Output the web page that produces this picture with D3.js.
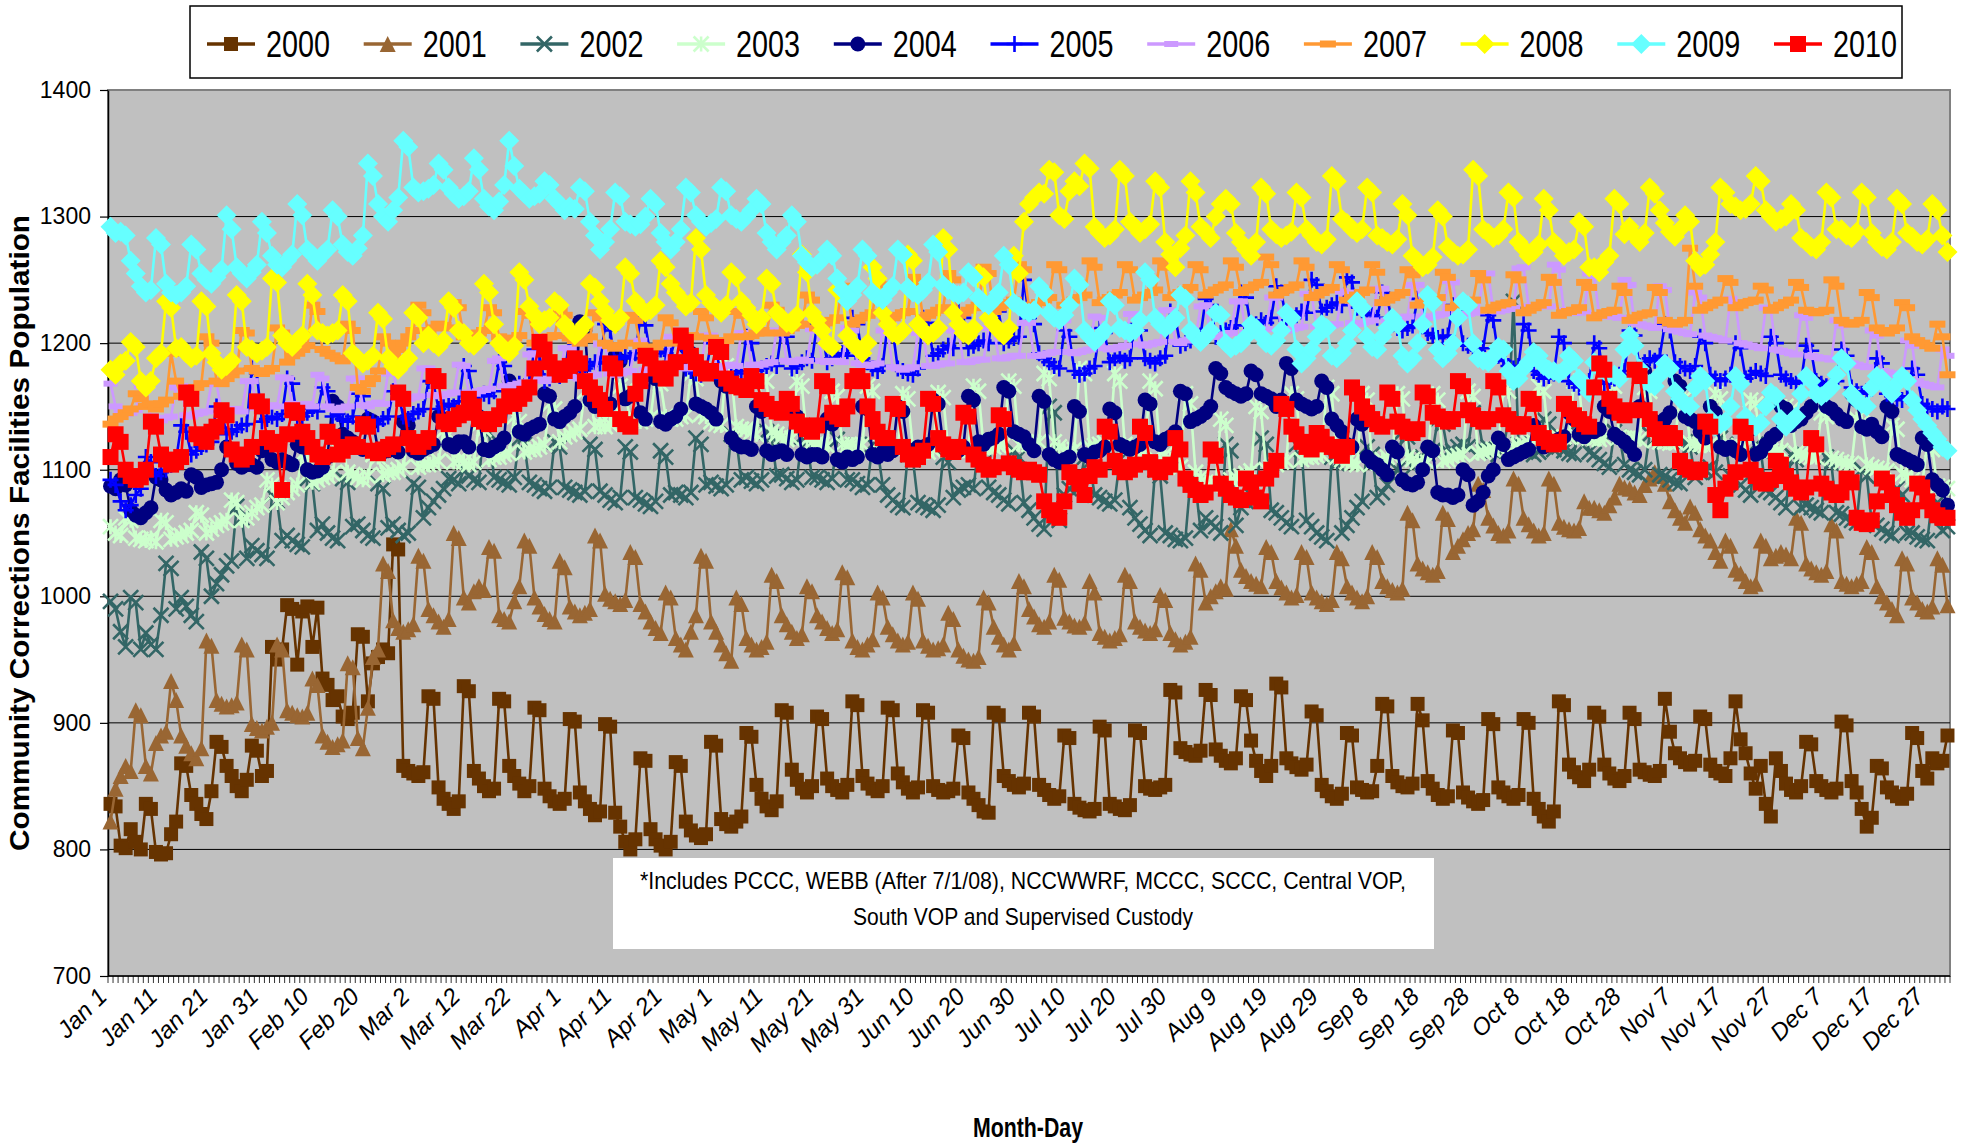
<!DOCTYPE html>
<html>
<head>
<meta charset="utf-8">
<title>Community Corrections Facilities Population</title>
<script src="https://cdn.jsdelivr.net/npm/d3@7"></script>
<style>
  body { margin: 0; background: #fff; }
  svg { display: block; font-family: "Liberation Sans", Arial, sans-serif; }
</style>
</head>
<body>
<div id="chart"></div>
<script>
// daily population, Jan 1 .. Dec 31 (one row = 7 days)
var y2000 = [
  836,834,803,801,816,806,800, 836,832,798,796,797,812,822, 868,866,843,836,828,824,846, 885,881,866,858,850,846,855,
  882,878,858,862,960,950,958, 993,990,946,988,992,960,991, 935,930,918,921,905,903,908, 970,968,917,947,952,958,955,
  1041,1037,866,862,860,858,861, 921,919,849,840,836,832,838, 929,925,862,856,850,846,848, 919,917,866,858,852,846,850,
  912,910,848,842,838,836,840, 903,901,845,838,832,827,830, 899,897,829,818,806,800,808, 872,870,816,808,803,800,806,
  869,866,822,815,811,809,812, 885,882,824,820,818,822,826, 892,889,851,840,834,831,838, 910,908,863,855,848,845,850,
  905,903,856,850,847,845,851, 917,914,858,852,848,846,850, 912,910,860,853,848,845,849, 910,908,850,847,845,846,848,
  890,888,845,840,835,830,829, 908,906,858,854,851,849,852, 908,905,851,847,843,840,842, 890,888,836,833,831,830,832,
  897,894,836,834,832,831,835, 894,892,850,848,847,849,851, 926,924,880,877,875,874,878, 926,922,879,874,870,868,872,
  921,918,886,870,862,858,866, 931,928,872,868,865,863,867, 909,906,851,846,842,840,844, 892,890,849,847,845,846,866,
  915,913,858,853,850,849,852, 915,902,854,848,843,840,842, 894,892,845,841,838,836,839, 903,899,849,845,842,840,843,
  903,900,840,832,826,822,830, 917,914,867,861,857,854,863, 908,905,867,860,856,854,858, 908,903,863,861,859,858,862,
  919,893,876,872,869,867,870, 905,903,867,862,860,858,872, 917,887,876,860,848,866,836, 826,872,862,852,847,845,850,
  885,883,854,850,847,845,848, 901,898,854,845,832,818,825, 866,864,849,845,842,840,844, 892,888,862,856,872,868,870,
  890
];
var y2001 = [
  822,848,858,866,862,910,906, 866,860,884,890,893,933,918, 890,882,876,872,880,965,961, 918,915,913,914,916,962,958,
  899,896,894,897,900,962,958, 910,908,906,905,908,935,930, 890,885,881,883,886,947,944, 888,880,912,952,958,1026,1020,
  981,975,972,974,978,1032,1028, 990,985,980,976,982,1050,1046, 999,995,1004,1008,1005,1039,1036, 985,982,980,996,1008,1044,1040,
  999,992,986,982,980,1028,1023, 992,988,985,987,990,1048,1044, 1002,998,996,994,997,1035,1031, 994,988,980,975,971,1003,999,
  967,962,958,972,985,1032,1028, 980,972,962,955,949,999,994, 967,962,958,960,964,1017,1012, 985,978,972,967,970,1008,1004,
  985,980,975,971,974,1019,1015, 965,960,958,962,966,1003,999, 976,970,965,962,964,1003,998, 965,961,958,959,962,987,982,
  958,953,950,949,952,999,995, 976,968,962,958,963,1012,1008, 990,984,978,976,980,1017,1013, 983,980,977,976,979,1012,1003,
  971,968,965,967,970,1017,1012, 980,976,973,971,974,1001,997, 971,966,962,964,968,1026,1021, 995,1000,1004,1008,1006,1053,1040,
  1021,1016,1012,1010,1008,1039,1035, 1012,1007,1003,999,1001,1035,1031, 1003,999,996,994,997,1035,1030, 1008,1003,999,996,1000,1035,1031,
  1012,1008,1005,1003,1006,1066,1060, 1026,1022,1019,1017,1020,1066,1061, 1035,1040,1045,1050,1053,1089,1084, 1062,1056,1050,1048,1052,1093,1089,
  1062,1057,1052,1048,1050,1093,1089, 1058,1055,1053,1052,1054,1075,1070, 1070,1068,1066,1072,1078,1089,1086, 1085,1082,1080,1088,1093,1098,1095,
  1089,1075,1068,1062,1058,1071,1066, 1053,1048,1044,1035,1028,1044,1040, 1021,1018,1012,1008,1010,1044,1040, 1030,1032,1035,1033,1030,1062,1058,
  1026,1022,1019,1017,1020,1057,1052, 1012,1010,1008,1010,1012,1039,1035, 1008,1000,995,990,985,1030,1026, 999,995,990,988,992,1030,1025,
  993
];
var y2002 = [
  996,990,972,960,999,995,958, 971,962,958,985,1026,1022,990, 999,992,985,980,1035,1030,1000, 1010,1017,1024,1028,1071,1062,1030,
  1040,1036,1033,1030,1080,1075,1044, 1048,1044,1041,1039,1093,1089,1052, 1057,1050,1046,1044,1093,1090,1055, 1057,1052,1048,1046,1089,1085,1054,
  1057,1052,1048,1050,1089,1086,1062, 1070,1075,1080,1085,1093,1092,1089, 1100,1095,1092,1090,1138,1129,1094, 1092,1090,1088,1094,1125,1120,1090,
  1088,1085,1083,1086,1122,1118,1086, 1084,1082,1080,1083,1120,1116,1083, 1080,1076,1074,1078,1118,1114,1078, 1076,1073,1071,1075,1115,1110,1080,
  1082,1080,1078,1082,1125,1120,1088, 1090,1087,1085,1088,1128,1124,1092, 1094,1091,1089,1092,1130,1126,1095, 1096,1093,1090,1092,1126,1122,1094,
  1094,1092,1090,1093,1124,1120,1092, 1092,1089,1086,1088,1120,1116,1088, 1080,1076,1072,1070,1112,1108,1074, 1072,1070,1068,1072,1110,1106,1078,
  1084,1086,1088,1085,1120,1116,1086, 1082,1080,1076,1073,1115,1110,1074, 1068,1062,1057,1053,1150,1145,1060, 1080,1085,1089,1086,1110,1106,1080,
  1078,1075,1073,1076,1108,1104,1070, 1062,1057,1052,1048,1100,1095,1050, 1048,1045,1044,1046,1092,1088,1052, 1062,1058,1055,1050,1120,1115,1056,
  1070,1075,1080,1076,1125,1120,1068, 1066,1062,1058,1055,1120,1116,1060, 1055,1050,1047,1044,1110,1105,1050, 1056,1062,1070,1075,1118,1112,1078,
  1082,1088,1095,1100,1130,1126,1102, 1108,1110,1112,1115,1140,1136,1114, 1115,1118,1120,1118,1145,1140,1116, 1118,1115,1112,1116,1140,1233,1120,
  1118,1115,1112,1114,1140,1136,1116, 1118,1115,1113,1112,1138,1134,1114, 1112,1108,1105,1102,1130,1126,1104, 1100,1098,1096,1100,1128,1124,1096,
  1095,1092,1090,1089,1122,1118,1094, 1098,1100,1102,1098,1125,1120,1095, 1092,1088,1084,1080,1120,1115,1084, 1082,1078,1074,1070,1112,1108,1070,
  1072,1070,1068,1066,1110,1105,1066, 1065,1062,1060,1058,1100,1095,1058, 1056,1053,1050,1048,1085,1080,1050, 1050,1047,1045,1044,1078,1074,1052,
  1055
];
var y2003 = [
  1055,1050,1048,1062,1060,1046,1045, 1044,1046,1043,1060,1058,1045,1047, 1048,1050,1052,1066,1064,1050,1053, 1056,1058,1060,1076,1074,1060,1062,
  1066,1070,1072,1092,1088,1074,1078, 1082,1085,1088,1112,1108,1090,1092, 1094,1095,1097,1122,1118,1098,1096, 1094,1092,1095,1112,1110,1096,1098,
  1098,1100,1102,1126,1122,1102,1104, 1104,1105,1107,1131,1128,1106,1108, 1106,1104,1106,1136,1132,1108,1110, 1110,1112,1113,1142,1138,1114,1116,
  1116,1118,1120,1152,1148,1122,1126, 1128,1130,1132,1162,1158,1134,1136, 1134,1136,1138,1166,1162,1138,1140, 1138,1140,1141,1172,1168,1142,1140,
  1140,1142,1143,1176,1172,1144,1142, 1138,1136,1135,1182,1176,1134,1132, 1132,1130,1128,1176,1170,1130,1128, 1126,1124,1125,1170,1166,1124,1122,
  1121,1120,1119,1162,1158,1120,1119, 1120,1118,1120,1166,1162,1121,1120, 1118,1117,1118,1160,1156,1117,1116, 1115,1114,1116,1161,1157,1116,1115,
  1116,1115,1117,1166,1162,1118,1117, 1118,1119,1120,1170,1166,1120,1121, 1120,1121,1122,1176,1172,1122,1118, 1115,1114,1116,1180,1176,1118,1119,
  1120,1121,1122,1176,1170,1120,1118, 1118,1116,1117,1170,1164,1114,1112, 1108,1105,1102,1160,1152,1098,1094, 1090,1088,1089,1140,1135,1092,1094,
  1095,1097,1099,1150,1146,1100,1102, 1104,1106,1107,1160,1156,1108,1110, 1110,1111,1112,1165,1160,1110,1108, 1106,1105,1104,1160,1155,1105,1106,
  1108,1110,1111,1160,1156,1110,1108, 1106,1105,1106,1160,1155,1107,1108, 1110,1111,1112,1162,1158,1113,1114, 1115,1116,1117,1166,1162,1118,1119,
  1120,1121,1122,1166,1162,1123,1124, 1125,1126,1126,1170,1166,1126,1125, 1125,1124,1125,1170,1166,1126,1125, 1124,1125,1124,1165,1162,1123,1122,
  1122,1121,1122,1160,1157,1121,1120, 1120,1119,1120,1160,1156,1119,1118, 1118,1117,1118,1155,1152,1116,1115, 1115,1114,1115,1150,1147,1113,1112,
  1111,1110,1110,1145,1142,1109,1108, 1106,1105,1105,1140,1137,1104,1102, 1101,1100,1099,1135,1132,1097,1095, 1092,1090,1089,1120,1116,1087,1086,
  1085
];
var y2004 = [
  1087,1085,1092,1088,1068,1064,1062, 1066,1070,1094,1092,1084,1080,1082, 1085,1083,1096,1094,1086,1088,1089, 1090,1100,1118,1116,1105,1102,1104,
  1104,1102,1115,1116,1108,1106,1108, 1106,1104,1120,1118,1100,1098,1099, 1102,1110,1154,1150,1128,1125,1122, 1118,1116,1140,1138,1116,1114,1115,
  1116,1114,1138,1135,1115,1113,1116, 1118,1120,1142,1140,1120,1118,1122, 1122,1118,1145,1142,1116,1115,1118, 1120,1125,1170,1165,1130,1128,1132,
  1134,1136,1160,1158,1140,1138,1142, 1145,1150,1217,1210,1155,1150,1152, 1150,1152,1190,1186,1156,1158,1160, 1145,1140,1175,1172,1138,1136,1140,
  1142,1148,1197,1192,1152,1150,1148, 1145,1140,1170,1166,1125,1120,1118, 1118,1116,1150,1146,1115,1112,1114, 1115,1112,1145,1142,1112,1110,1112,
  1112,1110,1140,1136,1108,1106,1110, 1108,1110,1150,1148,1112,1110,1114, 1112,1115,1150,1146,1116,1114,1118, 1118,1120,1155,1152,1120,1118,1116,
  1115,1118,1158,1155,1122,1120,1124, 1125,1128,1165,1162,1130,1128,1126, 1120,1115,1158,1154,1112,1108,1106, 1108,1110,1150,1146,1112,1110,1114,
  1115,1118,1148,1145,1120,1118,1116, 1118,1120,1155,1152,1122,1120,1124, 1126,1130,1162,1160,1138,1140,1142, 1145,1150,1180,1176,1165,1162,1160,
  1158,1160,1178,1175,1160,1158,1156, 1150,1155,1184,1180,1155,1152,1150, 1148,1150,1170,1165,1140,1135,1130, 1120,1118,1140,1136,1110,1106,1104,
  1100,1096,1118,1114,1092,1089,1088, 1090,1100,1118,1115,1082,1080,1080, 1078,1080,1100,1096,1072,1075,1082, 1095,1100,1125,1120,1108,1110,1112,
  1114,1116,1135,1130,1118,1120,1122, 1124,1126,1145,1140,1128,1126,1130, 1130,1132,1150,1146,1128,1125,1122, 1118,1112,1150,1178,1140,1138,1136,
  1140,1145,1170,1166,1142,1140,1138, 1130,1125,1150,1145,1118,1116,1118, 1115,1112,1135,1132,1112,1114,1120, 1125,1128,1150,1148,1135,1138,1140,
  1145,1150,1168,1165,1150,1148,1144, 1140,1138,1160,1155,1134,1132,1136, 1130,1126,1150,1146,1112,1110,1108, 1106,1104,1125,1120,1092,1088,1084,
  1072
];
var y2005 = [
  1092,1088,1075,1068,1072,1080,1085, 1110,1106,1095,1098,1100,1104,1108, 1135,1130,1112,1115,1118,1120,1122, 1150,1146,1128,1130,1132,1135,1136,
  1180,1176,1138,1140,1142,1140,1144, 1172,1168,1140,1142,1145,1148,1146, 1165,1162,1142,1144,1140,1138,1142, 1160,1158,1140,1138,1136,1140,1142,
  1162,1160,1142,1140,1144,1146,1148, 1170,1168,1148,1150,1152,1150,1154, 1182,1178,1156,1158,1160,1158,1162, 1185,1182,1162,1165,1168,1166,1170,
  1195,1190,1170,1172,1175,1174,1176, 1205,1200,1178,1180,1182,1185,1184, 1215,1210,1185,1188,1190,1188,1192, 1220,1214,1190,1192,1195,1192,1190,
  1205,1200,1180,1178,1176,1175,1178, 1200,1196,1172,1170,1174,1176,1178, 1205,1200,1178,1180,1182,1184,1182, 1210,1205,1180,1182,1185,1188,1186,
  1215,1210,1185,1188,1190,1192,1190, 1220,1215,1188,1185,1180,1178,1182, 1215,1210,1180,1178,1176,1175,1180, 1220,1216,1190,1192,1195,1198,1196,
  1225,1220,1196,1198,1200,1202,1200, 1230,1225,1200,1202,1204,1205,1250, 1220,1215,1192,1188,1185,1182,1180, 1210,1205,1178,1175,1176,1180,1182,
  1212,1208,1185,1188,1190,1186,1188, 1215,1210,1188,1186,1184,1188,1190, 1225,1220,1198,1200,1202,1205,1206, 1235,1230,1205,1208,1210,1212,1214,
  1240,1236,1212,1215,1218,1216,1220, 1245,1240,1218,1220,1222,1225,1224, 1250,1246,1225,1228,1230,1232,1230, 1252,1248,1228,1226,1224,1222,1220,
  1240,1236,1215,1212,1210,1212,1214, 1235,1230,1208,1206,1204,1205,1206, 1230,1225,1200,1198,1195,1194,1196, 1222,1218,1190,1186,1182,1180,1182,
  1215,1210,1178,1175,1172,1174,1176, 1205,1200,1170,1168,1165,1168,1170, 1200,1196,1168,1170,1172,1175,1178, 1210,1206,1182,1185,1188,1186,1190,
  1215,1210,1185,1182,1180,1178,1182, 1205,1200,1175,1172,1170,1172,1175, 1200,1196,1172,1175,1178,1176,1174, 1205,1200,1175,1172,1170,1168,1170,
  1198,1194,1170,1168,1166,1168,1170, 1195,1190,1165,1162,1160,1162,1164, 1188,1184,1160,1158,1156,1155,1158, 1180,1175,1152,1150,1148,1146,1150,
  1148
];
var y2006 = [
  1168,1150,1146,1144,1145,1147,1166, 1164,1142,1140,1139,1141,1142,1165, 1166,1143,1142,1144,1145,1146,1168, 1168,1146,1145,1147,1148,1146,1170,
  1170,1149,1148,1150,1151,1150,1173, 1172,1152,1150,1151,1152,1150,1175, 1172,1150,1148,1147,1149,1150,1172, 1172,1151,1150,1152,1153,1152,1176,
  1178,1156,1155,1156,1157,1158,1180, 1180,1159,1158,1159,1160,1161,1183, 1182,1161,1160,1162,1163,1164,1186, 1188,1166,1165,1167,1168,1169,1191,
  1192,1171,1170,1172,1173,1174,1196, 1196,1173,1172,1173,1174,1175,1199, 1198,1176,1175,1176,1177,1178,1201, 1202,1179,1178,1179,1180,1181,1205,
  1204,1181,1180,1181,1182,1182,1206, 1206,1181,1180,1182,1183,1182,1208, 1208,1183,1182,1183,1184,1185,1210, 1209,1186,1185,1186,1187,1186,1211,
  1210,1186,1185,1186,1186,1185,1212, 1210,1184,1183,1182,1183,1184,1210, 1208,1181,1180,1179,1180,1181,1208, 1208,1182,1182,1183,1184,1184,1210,
  1210,1185,1185,1186,1187,1187,1212, 1213,1188,1188,1189,1190,1190,1216, 1216,1190,1190,1191,1192,1193,1219, 1218,1193,1192,1193,1194,1195,1221,
  1220,1196,1195,1196,1197,1198,1223, 1223,1199,1198,1199,1200,1201,1226, 1226,1201,1200,1202,1203,1204,1229, 1230,1205,1205,1206,1207,1208,1233,
  1233,1208,1208,1209,1210,1211,1236, 1236,1211,1210,1211,1212,1213,1239, 1238,1213,1212,1213,1214,1215,1241, 1240,1216,1215,1216,1217,1218,1243,
  1243,1218,1218,1219,1220,1221,1246, 1246,1221,1220,1221,1222,1223,1249, 1248,1223,1222,1223,1224,1225,1252, 1255,1226,1225,1226,1227,1228,1259,
  1260,1229,1228,1229,1230,1229,1262, 1258,1226,1225,1224,1225,1224,1255, 1252,1222,1221,1222,1221,1220,1250, 1246,1216,1215,1214,1213,1212,1245,
  1242,1211,1210,1209,1208,1207,1240, 1236,1206,1205,1204,1203,1202,1235, 1232,1200,1199,1198,1197,1196,1228, 1226,1195,1194,1193,1192,1191,1222,
  1220,1190,1189,1188,1188,1187,1218, 1214,1185,1184,1183,1182,1181,1210, 1206,1178,1177,1176,1175,1174,1202, 1198,1170,1168,1167,1166,1165,1195,
  1190
];
var y2007 = [
  1136,1140,1142,1145,1148,1160,1156, 1150,1152,1148,1152,1155,1192,1170, 1158,1160,1162,1165,1168,1205,1200, 1170,1168,1172,1175,1178,1210,1208,
  1180,1178,1176,1178,1180,1212,1208, 1185,1190,1192,1195,1198,1230,1225, 1195,1192,1190,1188,1186,1215,1210, 1165,1162,1168,1172,1178,1205,1200,
  1190,1195,1200,1205,1210,1230,1224, 1210,1212,1215,1214,1212,1232,1228, 1205,1204,1206,1208,1210,1228,1224, 1205,1203,1202,1204,1206,1225,1222,
  1200,1202,1204,1205,1206,1226,1222, 1204,1202,1200,1203,1205,1224,1220, 1200,1198,1196,1198,1200,1222,1218, 1198,1196,1195,1197,1200,1220,1216,
  1200,1202,1204,1206,1205,1225,1220, 1204,1202,1200,1202,1205,1225,1222, 1205,1206,1208,1210,1208,1230,1226, 1208,1210,1212,1214,1215,1238,1234,
  1212,1214,1216,1218,1220,1245,1240, 1215,1218,1220,1222,1224,1250,1246, 1218,1220,1222,1224,1225,1252,1248, 1220,1222,1224,1226,1228,1255,1250,
  1222,1224,1226,1228,1230,1260,1255, 1225,1228,1230,1232,1234,1262,1258, 1228,1230,1232,1234,1236,1262,1258, 1230,1232,1234,1236,1238,1265,1260,
  1232,1234,1236,1238,1240,1262,1258, 1234,1236,1238,1240,1242,1265,1260, 1236,1238,1240,1242,1244,1262,1258, 1238,1240,1242,1244,1246,1265,1260,
  1240,1242,1244,1246,1248,1268,1262, 1238,1240,1242,1244,1246,1265,1260, 1236,1238,1240,1242,1244,1262,1258, 1234,1236,1238,1240,1242,1262,1256,
  1232,1234,1236,1238,1240,1258,1254, 1230,1232,1234,1235,1236,1256,1252, 1228,1230,1232,1233,1234,1255,1250, 1226,1228,1230,1231,1232,1254,1250,
  1224,1226,1228,1230,1232,1252,1248, 1222,1224,1225,1226,1228,1248,1244, 1220,1222,1224,1225,1226,1245,1240, 1218,1220,1222,1223,1224,1244,1240,
  1218,1216,1215,1216,1218,1275,1245, 1226,1228,1230,1232,1234,1251,1248, 1228,1230,1232,1233,1234,1245,1242, 1226,1228,1230,1232,1234,1248,1244,
  1226,1225,1224,1225,1226,1250,1245, 1218,1216,1215,1216,1218,1240,1236, 1212,1210,1208,1210,1212,1232,1228, 1205,1202,1200,1198,1196,1215,1205,
  1175
];
var y2008 = [
  1179,1175,1184,1186,1201,1197,1170, 1165,1170,1188,1192,1233,1228,1196, 1197,1192,1188,1190,1233,1229,1192, 1185,1179,1182,1186,1238,1233,1197,
  1195,1192,1194,1197,1251,1248,1206, 1200,1197,1202,1206,1247,1238,1210, 1208,1206,1208,1210,1238,1233,1192, 1188,1184,1186,1190,1224,1219,1188,
  1182,1179,1184,1188,1224,1220,1200, 1206,1200,1197,1202,1233,1228,1210, 1208,1200,1198,1202,1247,1240,1215, 1200,1195,1192,1198,1256,1250,1229,
  1222,1215,1218,1220,1233,1230,1215, 1210,1206,1210,1215,1247,1244,1233, 1225,1218,1215,1220,1260,1255,1233, 1228,1224,1226,1230,1265,1260,1247,
  1240,1235,1229,1232,1283,1274,1238, 1232,1228,1224,1230,1256,1252,1233, 1228,1222,1215,1220,1251,1247,1224, 1220,1216,1215,1222,1270,1256,1224,
  1218,1210,1200,1197,1242,1238,1206, 1200,1196,1192,1200,1260,1251,1224, 1215,1208,1206,1210,1270,1265,1215, 1210,1206,1208,1212,1283,1274,1224,
  1215,1208,1206,1212,1255,1252,1220, 1215,1210,1206,1212,1269,1255,1296, 1310,1315,1319,1318,1337,1335,1301, 1298,1320,1328,1324,1342,1338,1292,
  1287,1283,1285,1290,1337,1332,1296, 1292,1287,1290,1294,1328,1323,1280, 1270,1260,1275,1285,1328,1319,1292, 1288,1283,1300,1310,1314,1310,1287,
  1280,1274,1269,1280,1323,1318,1290, 1286,1283,1285,1288,1319,1315,1290, 1285,1280,1278,1282,1332,1328,1298, 1295,1290,1287,1290,1323,1319,1285,
  1283,1280,1278,1282,1310,1301,1269, 1265,1260,1262,1268,1305,1300,1276, 1272,1269,1270,1274,1337,1332,1290, 1287,1283,1285,1290,1319,1315,1280,
  1275,1269,1272,1278,1314,1305,1280, 1276,1269,1272,1274,1296,1292,1260, 1260,1256,1264,1269,1314,1310,1286, 1292,1285,1280,1287,1323,1318,1305,
  1295,1288,1284,1290,1301,1296,1265, 1260,1262,1270,1280,1323,1319,1310, 1308,1305,1306,1310,1332,1328,1305, 1300,1296,1298,1300,1310,1305,1283,
  1280,1276,1274,1280,1319,1315,1290, 1290,1285,1283,1288,1319,1315,1287, 1280,1276,1274,1280,1314,1310,1287, 1284,1280,1278,1282,1310,1305,1285,
  1272
];
var y2009 = [
  1292,1287,1288,1285,1265,1255,1245, 1240,1242,1283,1278,1247,1240,1238, 1240,1245,1278,1274,1255,1250,1247, 1252,1258,1301,1290,1260,1255,1251,
  1256,1262,1296,1287,1269,1262,1260, 1265,1270,1310,1301,1274,1270,1265, 1270,1274,1305,1300,1278,1272,1269, 1275,1285,1342,1332,1310,1300,1296,
  1305,1315,1360,1355,1323,1319,1320, 1322,1325,1342,1337,1323,1318,1314, 1316,1320,1346,1337,1314,1308,1305, 1312,1325,1360,1340,1322,1318,1314,
  1316,1318,1328,1325,1314,1310,1305, 1308,1306,1323,1320,1296,1285,1274, 1280,1290,1319,1316,1296,1294,1292, 1294,1300,1314,1310,1287,1280,1274,
  1280,1290,1323,1319,1301,1296,1292, 1295,1298,1323,1320,1301,1298,1296, 1300,1305,1314,1310,1287,1280,1274, 1280,1285,1301,1296,1269,1264,1260,
  1262,1266,1274,1269,1251,1242,1233, 1238,1245,1274,1269,1240,1236,1234, 1240,1245,1274,1270,1244,1240,1238, 1242,1248,1278,1272,1246,1242,1240,
  1238,1240,1256,1252,1236,1232,1230, 1234,1240,1269,1262,1232,1229,1226, 1224,1226,1245,1240,1224,1220,1218, 1222,1230,1251,1246,1210,1205,1201,
  1205,1210,1233,1230,1212,1210,1208, 1210,1218,1256,1250,1220,1215,1212, 1215,1220,1238,1235,1210,1205,1201, 1205,1210,1224,1222,1200,1196,1198,
  1200,1205,1215,1212,1206,1200,1198, 1202,1210,1224,1220,1195,1184,1188, 1195,1205,1215,1212,1190,1188,1192, 1200,1210,1233,1228,1205,1197,1195,
  1205,1212,1220,1215,1190,1184,1188, 1200,1215,1238,1232,1195,1188,1192, 1200,1220,1233,1230,1200,1188,1186, 1185,1190,1197,1195,1178,1170,1172,
  1180,1185,1193,1190,1182,1179,1178, 1176,1179,1190,1186,1172,1168,1161, 1185,1180,1178,1176,1175,1172,1195, 1206,1198,1180,1170,1168,1166,1175,
  1184,1180,1162,1156,1152,1150,1165, 1174,1170,1140,1134,1136,1138,1150, 1174,1168,1142,1136,1134,1137,1150, 1161,1158,1140,1134,1138,1142,1160,
  1174,1170,1160,1158,1161,1165,1175, 1188,1184,1160,1155,1152,1150,1165, 1174,1172,1165,1160,1168,1174,1170, 1155,1147,1140,1135,1129,1124,1118,
  1115
];
var y2010 = [
  1110,1128,1122,1100,1095,1092,1094, 1100,1138,1134,1112,1108,1104,1106, 1110,1161,1156,1128,1125,1122,1130, 1134,1147,1143,1116,1112,1108,1110,
  1118,1154,1150,1125,1122,1120,1084, 1128,1147,1145,1130,1125,1118,1112, 1110,1130,1126,1112,1115,1118,1120, 1118,1136,1134,1115,1113,1116,1118,
  1120,1161,1156,1125,1120,1118,1122, 1125,1174,1170,1138,1136,1140,1143, 1145,1156,1150,1140,1138,1136,1140, 1143,1150,1158,1152,1156,1160,1165,
  1180,1201,1195,1185,1180,1175,1178, 1182,1188,1184,1170,1165,1160,1155, 1148,1184,1180,1140,1136,1134,1160, 1170,1190,1188,1180,1175,1172,1180,
  1185,1206,1201,1190,1185,1180,1176, 1178,1197,1193,1172,1168,1166,1165, 1163,1174,1170,1155,1152,1148,1146, 1145,1156,1152,1138,1135,1132,1130,
  1135,1170,1166,1145,1142,1140,1150, 1170,1174,1170,1150,1140,1130,1125, 1125,1152,1148,1118,1112,1108,1110, 1115,1156,1152,1125,1120,1116,1114,
  1118,1145,1142,1112,1108,1104,1100, 1102,1143,1140,1105,1102,1100,1098, 1100,1098,1096,1075,1068,1064,1062, 1075,1098,1094,1089,1080,1095,1102,
  1100,1134,1130,1107,1102,1098,1100, 1104,1134,1129,1106,1100,1098,1102, 1104,1125,1116,1093,1088,1084,1080, 1082,1116,1111,1089,1085,1080,1078,
  1076,1093,1090,1078,1075,1093,1100, 1107,1152,1148,1134,1128,1122,1118, 1116,1129,1126,1120,1118,1115,1111, 1118,1165,1160,1150,1145,1140,1136,
  1134,1161,1156,1138,1134,1130,1129, 1132,1161,1158,1145,1142,1140,1138, 1140,1170,1166,1147,1143,1140,1138, 1140,1170,1165,1143,1140,1136,1134,
  1136,1156,1152,1129,1125,1122,1120, 1122,1152,1148,1143,1140,1136,1134, 1165,1184,1179,1156,1150,1145,1143, 1147,1179,1174,1147,1140,1132,1125,
  1125,1129,1125,1107,1102,1100,1098, 1100,1138,1134,1080,1068,1085,1090, 1098,1134,1129,1100,1095,1090,1089, 1092,1107,1104,1095,1090,1085,1082,
  1086,1125,1120,1089,1085,1082,1080, 1082,1093,1090,1062,1058,1057,1060, 1075,1093,1090,1080,1072,1066,1062, 1068,1089,1086,1075,1068,1064,1062,
  1062
];

var years = ["2000", "2001", "2002", "2003", "2004", "2005", "2006", "2007", "2008", "2009", "2010"];
var tickLabels = ["Jan 1", "Jan 11", "Jan 21", "Jan 31", "Feb 10", "Feb 20", "Mar 2", "Mar 12", "Mar 22",
  "Apr 1", "Apr 11", "Apr 21", "May 1", "May 11", "May 21", "May 31", "Jun 10", "Jun 20", "Jun 30",
  "Jul 10", "Jul 20", "Jul 30", "Aug 9", "Aug 19", "Aug 29", "Sep 8", "Sep 18", "Sep 28", "Oct 8",
  "Oct 18", "Oct 28", "Nov 7", "Nov 17", "Nov 27", "Dec 7", "Dec 17", "Dec 27"];
var yTicks = [700, 800, 900, 1000, 1100, 1200, 1300, 1400];

var values = {"2000": y2000, "2001": y2001, "2002": y2002, "2003": y2003, "2004": y2004, "2005": y2005,
              "2006": y2006, "2007": y2007, "2008": y2008, "2009": y2009, "2010": y2010};

// marker + colour of each year, like the excel chart
var styles = {
  "2000": {color: "#663300", marker: "square", size: 14},
  "2001": {color: "#996633", marker: "triangle", size: 16},
  "2002": {color: "#336666", marker: "x", size: 15},
  "2003": {color: "#CCFFCC", marker: "star", size: 15},
  "2004": {color: "#000080", marker: "circle", size: 15},
  "2005": {color: "#0000FF", marker: "plus", size: 16},
  "2006": {color: "#CC99FF", marker: "dot", size: 14},
  "2007": {color: "#FF9933", marker: "dash", size: 16},
  "2008": {color: "#FFFF00", marker: "diamond", size: 20},
  "2009": {color: "#66FFFF", marker: "diamond", size: 20},
  "2010": {color: "#FF0000", marker: "square", size: 16}
};

// set the dimensions and margins of the graph
var W = 1962, H = 1145;
var margin = {top: 90, right: 12, bottom: 169, left: 108},
    width = W - margin.left - margin.right,
    height = H - margin.top - margin.bottom;

var svg = d3.select("#chart")
  .append("svg")
    .attr("width", W)
    .attr("height", H);

// categories: every day of a (non leap) year
var days = d3.timeDay.range(new Date(2001, 0, 1), new Date(2002, 0, 1)).map(d3.timeFormat("%b %-d"));

var x = d3.scaleBand()
  .domain(days)
  .range([margin.left, margin.left + width]);
var xc = function(i) { return x(days[i]) + x.bandwidth() / 2; };

var y = d3.scaleLinear()
  .domain([700, 1400])
  .range([margin.top + height, margin.top]);

// plot area
svg.append("rect")
  .attr("x", margin.left).attr("y", margin.top)
  .attr("width", width).attr("height", height)
  .attr("fill", "#C0C0C0")
  .attr("stroke", "#808080")
  .attr("stroke-width", 2);

// gridlines
svg.append("g")
  .selectAll("line")
  .data(yTicks.filter(function(d) { return d > 700 && d < 1400; }))
  .enter().append("line")
    .attr("x1", margin.left).attr("x2", margin.left + width)
    .attr("y1", function(d) { return y(d); })
    .attr("y2", function(d) { return y(d); })
    .attr("stroke", "#000")
    .attr("stroke-width", 1);

// Y axis
var yAxis = svg.append("g")
  .attr("transform", "translate(" + margin.left + ",0)")
  .call(d3.axisLeft(y).tickValues(yTicks).tickFormat(d3.format("d")).tickSize(8).tickSizeOuter(0).tickPadding(9));
yAxis.select(".domain").attr("stroke", "#000").attr("stroke-width", 1.5);
yAxis.selectAll(".tick line").attr("stroke", "#000").attr("stroke-width", 1.2);
yAxis.selectAll(".tick text")
  .style("font-size", "23px")
  .style("fill", "#000");

// X axis: a small tick at every category boundary
var xBase = margin.top + height;
svg.append("g")
  .selectAll("line")
  .data(days.concat(["end"]))
  .enter().append("line")
    .attr("x1", function(d, i) { return margin.left + i * x.bandwidth(); })
    .attr("x2", function(d, i) { return margin.left + i * x.bandwidth(); })
    .attr("y1", xBase).attr("y2", xBase + 7)
    .attr("stroke", "#000")
    .attr("stroke-width", 0.8);
svg.append("line")
  .attr("x1", margin.left).attr("x2", margin.left + width)
  .attr("y1", xBase).attr("y2", xBase)
  .attr("stroke", "#000").attr("stroke-width", 1.5);

svg.append("g")
  .selectAll("text")
  .data(tickLabels)
  .enter().append("text")
    .attr("transform", function(d) {
      return "translate(" + (x(d) + x.bandwidth() / 2 - 8) + "," + (xBase + 16) + ")rotate(-45)";
    })
    .attr("text-anchor", "end")
    .attr("dy", "0.35em")
    .style("font-size", "24px")
    .style("font-style", "italic")
    .text(function(d) { return d; });

// axis titles
svg.append("text")
  .attr("x", 1028).attr("y", 1137)
  .attr("text-anchor", "middle")
  .attr("textLength", 110).attr("lengthAdjust", "spacingAndGlyphs")
  .style("font-size", "27px").style("font-weight", "bold")
  .text("Month-Day");

svg.append("text")
  .attr("transform", "translate(29,533)rotate(-90)")
  .attr("text-anchor", "middle")
  .attr("textLength", 636).attr("lengthAdjust", "spacingAndGlyphs")
  .style("font-size", "28px").style("font-weight", "bold")
  .text("Community Corrections Facilities Population");

// marker shapes
function markerPath(type, s) {
  var h = s / 2;
  switch (type) {
    case "square":   return "M" + (-h) + "," + (-h) + "h" + s + "v" + s + "h" + (-s) + "Z";
    case "triangle": return "M0," + (-h) + "L" + h + "," + h + "L" + (-h) + "," + h + "Z";
    case "diamond":  return "M0," + (-h) + "L" + h + ",0L0," + h + "L" + (-h) + ",0Z";
    case "circle":   return d3.symbol(d3.symbolCircle, Math.PI * h * h)();
    case "x":        return "M" + (-h) + "," + (-h) + "L" + h + "," + h + "M" + (-h) + "," + h + "L" + h + "," + (-h);
    case "star":     return "M" + (-h) + "," + (-h) + "L" + h + "," + h + "M" + (-h) + "," + h + "L" + h + "," + (-h) + "M0," + (-h) + "L0," + h;
    case "plus":     return "M" + (-h) + ",0L" + h + ",0M0," + (-h) + "L0," + h;
    case "dot":      return "M" + (-h) + ",-3h" + s + "v6h" + (-s) + "Z";
    case "dash":     return "M" + (-h) + ",-3.5h" + s + "v7h" + (-s) + "Z";
  }
}
var stroked = {x: true, star: true, plus: true};

var line = d3.line()
  .x(function(d, i) { return xc(i); })
  .y(function(d) { return y(d); });

// series, 2000 at the back, 2010 on top
years.forEach(function(yr) {
  var st = styles[yr];
  var g = svg.append("g").attr("class", "series");
  g.append("path")
    .datum(values[yr])
    .attr("fill", "none")
    .attr("stroke", st.color)
    .attr("stroke-width", 2.6)
    .attr("stroke-linejoin", "round")
    .attr("d", line);
  g.selectAll("path.m")
    .data(values[yr])
    .enter().append("path")
      .attr("class", "m")
      .attr("transform", function(d, i) { return "translate(" + xc(i) + "," + y(d) + ")"; })
      .attr("d", markerPath(st.marker, st.size))
      .attr("fill", stroked[st.marker] ? "none" : st.color)
      .attr("stroke", stroked[st.marker] ? st.color : "none")
      .attr("stroke-width", 2.6);
});

// note box
svg.append("rect")
  .attr("x", 613).attr("y", 858).attr("width", 821).attr("height", 91)
  .attr("fill", "#fff");
svg.append("text")
  .attr("x", 1023).attr("y", 889)
  .attr("text-anchor", "middle")
  .attr("textLength", 766).attr("lengthAdjust", "spacingAndGlyphs")
  .style("font-size", "24px")
  .text("*Includes PCCC, WEBB (After 7/1/08), NCCWWRF, MCCC, SCCC, Central VOP,");
svg.append("text")
  .attr("x", 1023).attr("y", 925)
  .attr("text-anchor", "middle")
  .attr("textLength", 340).attr("lengthAdjust", "spacingAndGlyphs")
  .style("font-size", "24px")
  .text("South VOP and Supervised Custody");

// legend
var legend = svg.append("g");
legend.append("rect")
  .attr("x", 190).attr("y", 6).attr("width", 1712).attr("height", 72)
  .attr("fill", "#fff").attr("stroke", "#000").attr("stroke-width", 1.5);

years.forEach(function(yr, i) {
  var st = styles[yr];
  var cx = 231 + i * 156.7, cy = 44;
  legend.append("line")
    .attr("x1", cx - 24).attr("x2", cx + 24)
    .attr("y1", cy).attr("y2", cy)
    .attr("stroke", st.color).attr("stroke-width", 3.5);
  legend.append("path")
    .attr("transform", "translate(" + cx + "," + cy + ")")
    .attr("d", markerPath(st.marker, st.size))
    .attr("fill", stroked[st.marker] ? "none" : st.color)
    .attr("stroke", stroked[st.marker] ? st.color : "none")
    .attr("stroke-width", 2.6);
  legend.append("text")
    .attr("x", cx + 35).attr("y", cy + 13)
    .attr("textLength", 64).attr("lengthAdjust", "spacingAndGlyphs")
    .style("font-size", "37px")
    .text(yr);
});
</script>
</body>
</html>
